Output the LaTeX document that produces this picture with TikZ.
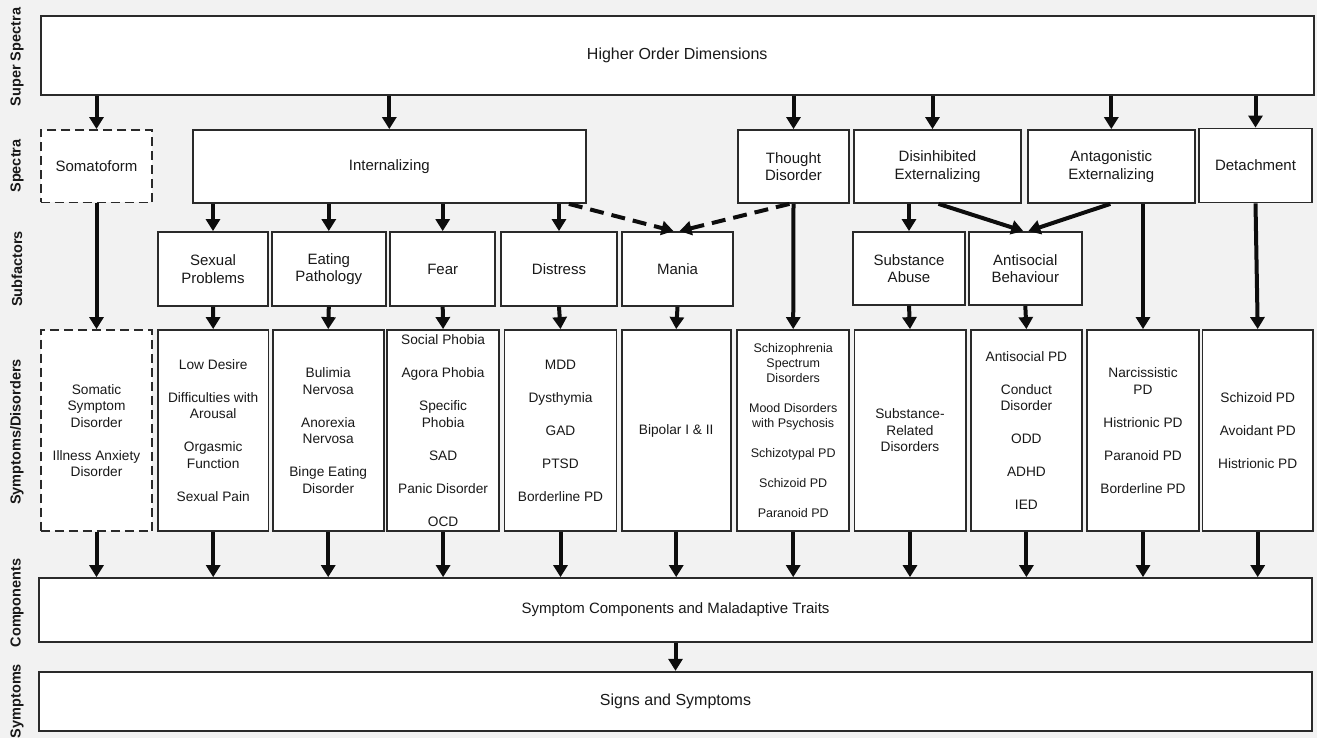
\documentclass[tikz,border=0pt]{standalone}
\usepackage{fontspec}
\setmainfont{Liberation Sans}
\usetikzlibrary{arrows.meta}
\definecolor{bgc}{HTML}{F2F2F2}
\definecolor{edge}{HTML}{2A2A2A}
\begin{document}
\begin{tikzpicture}[x=1pt,y=-1pt,
 box/.style={draw=edge, line width=1.8pt, fill=white, inner sep=0pt, align=center, text=black!90, font=\fontsize{15}{17.5}\selectfont},
 dbox/.style={box, dash pattern=on 9pt off 5pt},
 col/.style={box, font=\fontsize{13.7}{16.5}\selectfont},
 tcol/.style={box, font=\fontsize{12.5}{15}\selectfont},
 arr/.style={line width=4pt, draw=black!95, -{Triangle[width=14pt,length=12pt]}},
 darr/.style={arr, dash pattern=on 14pt off 8pt},
 lab/.style={rotate=90, font=\bfseries\fontsize{14.5}{17}\selectfont, text=black!90, inner sep=0pt}]
\useasboundingbox (0,0) rectangle (1317,738);
\clip (0,0) rectangle (1317,738);
\fill[bgc] (0,0) rectangle (1317,738);

% left labels
\node[lab] (l1) at (17,57) {Super Spectra};
\node[lab] (l2) at (17,166) {Spectra};
\node[lab] (l3) at (17,269) {Subfactors};
\node[lab] (l4) at (17,432) {Symptoms/Disorders};
\node[lab] (l5) at (17,603) {Components};
\node[lab] (l6) at (17,701) {Symptoms};

% super spectra
\node[box, minimum width=1273, minimum height=79, font=\fontsize{16}{19}\selectfont] (super) at (677.2,55.5) {Higher Order Dimensions};

% spectra
\node[dbox, minimum width=111.6, minimum height=72.5] (soma) at (96.5,166.2) {Somatoform};
\node[box, minimum width=393.3, minimum height=73] (intl) at (389.3,166.5) {Internalizing};
\node[box, minimum width=111.6, minimum height=73] (thou) at (793.5,166.5) {Thought\\Disorder};
\node[box, minimum width=167, minimum height=73] (dis) at (937.5,166.5) {Disinhibited\\Externalizing};
\node[box, minimum width=167.3, minimum height=73] (ant) at (1111.3,166.5) {Antagonistic\\Externalizing};
\node[box, minimum width=113, minimum height=74] (det) at (1255.5,165.5) {Detachment};

% subfactors
\node[box, minimum width=110, minimum height=74] (sexf) at (213,269) {Sexual\\Problems};
\node[box, minimum width=114.3, minimum height=74] (eatf) at (328.8,269) {Eating\\Pathology};
\node[box, minimum width=105.3, minimum height=74] (fearf) at (442.7,269) {Fear};
\node[box, minimum width=116, minimum height=74] (disf) at (559,269) {Distress};
\node[box, minimum width=111.6, minimum height=74] (manf) at (677.5,269) {Mania};
\node[box, minimum width=112, minimum height=73] (subf) at (909,268.5) {Substance\\Abuse};
\node[box, minimum width=112.7, minimum height=73] (asbf) at (1025.3,268.5) {Antisocial\\Behaviour};

% symptoms / disorders
\node[dbox, font=\fontsize{13.7}{16.5}\selectfont, minimum width=111.7, minimum height=201] (soms) at (96.5,430.5) {Somatic\\Symptom\\Disorder\\[1.2em]Illness Anxiety\\Disorder};
\node[col, minimum width=110.5, minimum height=201] (sexs) at (213.2,430.5) {Low Desire\\[1.2em]Difficulties with\\Arousal\\[1.2em]Orgasmic\\Function\\[1.2em]Sexual Pain};
\node[col, minimum width=110.9, minimum height=201] (eats) at (328.2,430.5) {Bulimia\\Nervosa\\[1.2em]Anorexia\\Nervosa\\[1.2em]Binge Eating\\Disorder};
\node[col, minimum width=112.3, minimum height=201] (fears) at (443.1,430.5) {Social Phobia\\[1.2em]Agora Phobia\\[1.2em]Specific\\Phobia\\[1.2em]SAD\\[1.2em]Panic Disorder\\[1.2em]OCD};
\node[col, minimum width=111.9, minimum height=201] (diss) at (560.5,430.5) {MDD\\[1.2em]Dysthymia\\[1.2em]GAD\\[1.2em]PTSD\\[1.2em]Borderline PD};
\node[col, minimum width=109, minimum height=201] (mans) at (676.2,430.5) {Bipolar I \& II};
\node[tcol, minimum width=112.3, minimum height=201] (thos) at (793.2,430.5) {Schizophrenia\\Spectrum\\Disorders\\[1.2em]Mood Disorders\\with Psychosis\\[1.2em]Schizotypal PD\\[1.2em]Schizoid PD\\[1.2em]Paranoid PD};
\node[col, minimum width=111.2, minimum height=201] (subs) at (910,430.5) {Substance-\\Related\\Disorders};
\node[col, minimum width=111.6, minimum height=201] (asbs) at (1026.4,430.5) {Antisocial PD\\[1.2em]Conduct\\Disorder\\[1.2em]ODD\\[1.2em]ADHD\\[1.2em]IED};
\node[col, minimum width=111.5, minimum height=201] (ants) at (1143,430.5) {Narcissistic\\PD\\[1.2em]Histrionic PD\\[1.2em]Paranoid PD\\[1.2em]Borderline PD};
\node[col, minimum width=110.6, minimum height=201] (dets) at (1257.7,430.5) {Schizoid PD\\[1.2em]Avoidant PD\\[1.2em]Histrionic PD};

% components and symptoms
\node[box, minimum width=1273.6, minimum height=63.7] (comp) at (675.5,609.9) {Symptom Components and Maladaptive Traits};
\node[box, minimum width=1273.6, minimum height=59.3, font=\fontsize{16}{19}\selectfont] (sign) at (675.5,701.4) {Signs and Symptoms};

% super -> spectra
\foreach \n in {soma,intl,thou,ant,det}
  \draw[arr] (\n.north |- super.south) -- (\n.north);
\coordinate (dn) at ([xshift=-5pt]dis.north);
\draw[arr] (dn |- super.south) -- (dn);

% spectra -> subfactors
\foreach \n in {sexf,eatf,fearf,disf}
  \draw[arr] (\n.north |- intl.south) -- (\n.north);
\draw[darr] ([xshift=-18pt]intl.south east) -- ([xshift=-4pt]manf.north);
\draw[darr] ([xshift=-4pt]thou.south) -- ([xshift=2pt]manf.north);
\draw[arr] (subf.north |- dis.south) -- (subf.north);
\draw[arr] ([xshift=1pt]dis.south) -- ([xshift=-2pt]asbf.north);
\draw[arr] ([xshift=-1pt]ant.south) -- ([xshift=3pt]asbf.north);

% spectra -> symptoms
\draw[arr] (soma.south) -- (soms.north);
\draw[arr] (thou.south) -- (thos.north);
\draw[arr] (ants.north |- ant.south) -- (ants.north);
\draw[arr] (det.south) -- (dets.north);

% subfactors -> symptoms
\draw[arr] (sexf.south) -- (sexs.north);
\draw[arr] (eatf.south) -- (eats.north);
\draw[arr] (fearf.south) -- (fears.north);
\draw[arr] (disf.south) -- (diss.north);
\draw[arr] (manf.south) -- (mans.north);
\draw[arr] (subf.south) -- (subs.north);
\draw[arr] (asbf.south) -- (asbs.north);

% symptoms -> components
\foreach \n in {soms,sexs,eats,fears,diss,mans,thos,subs,asbs,ants,dets}
  \draw[arr] (\n.south) -- (\n.south |- comp.north);

% components -> signs
\draw[arr] (comp.south) -- (sign.north);
\end{tikzpicture}
\end{document}
